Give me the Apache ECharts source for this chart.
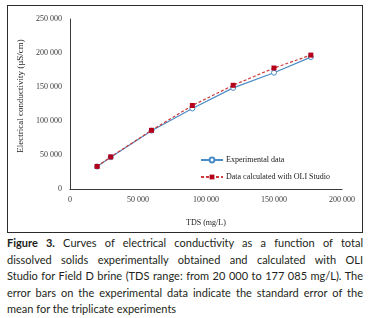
<!DOCTYPE html>
<html>
<head>
<meta charset="utf-8">
<script src="https://cdn.jsdelivr.net/npm/echarts@6/dist/echarts.min.js"></script>
<style>
  html, body { margin: 0; padding: 0; background: #fff; }
  body { width: 372px; height: 318px; position: relative; overflow: hidden; }
  #chart { position: absolute; left: 7px; top: 5px; width: 356px; height: 228px; border: 1px solid #2b2b2b; box-sizing: border-box; }
  #caption { position: absolute; left: 7px; top: 235px; width: 356px; font-family: Lato, 'Noto Sans', sans-serif; font-size: 11px; line-height: 16.5px; color: #231f20; }
  #caption div { text-align: justify; text-align-last: justify; white-space: nowrap; }
  #caption div.last { text-align-last: left; }
  #caption b { color: #1d1d1b; }
</style>
</head>
<body>
<div id="chart"></div>
<div id="caption">
  <div><b>Figure 3.</b> Curves of electrical conductivity as a function of total</div>
  <div>dissolved solids experimentally obtained and calculated with OLI</div>
  <div>Studio for Field D brine (TDS range: from 20 000 to 177 085 mg/L). The</div>
  <div>error bars on the experimental data indicate the standard error of the</div>
  <div class="last">mean for the triplicate experiments</div>
</div>
<script>
// TDS (mg/L) of each brine dilution
var tds = [20000, 30000, 60000, 90000, 120000, 150000, 177085]
// electrical conductivity (uS/cm)
var experimental = [33000, 46800, 85800, 118400, 148700, 171000, 194000]
var calculated = [33200, 47200, 86300, 122800, 152500, 177900, 196900]
var seriesNames = ['Experimental data', 'Data calculated with OLI Studio']
var xRange = [0, 200000, 50000]
var yRange = [0, 250000, 50000]

var serif = "'Liberation Serif', 'DejaVu Serif', serif"

function spaced (v) {
  return String(v).replace(/\B(?=(\d{3})+(?!\d))/g, ' ')
}

function pairs (ys) {
  var out = []
  for (var i = 0; i < tds.length; i++) out.push([tds[i], ys[i]])
  return out
}

var chart = echarts.init(document.getElementById('chart'), null, { renderer: 'canvas' })

var option = {
  animation: false,
  grid: { left: 60, right: 20, top: 13, bottom: 42 },
  legend: {
    orient: 'vertical',
    left: 192,
    top: 150,
    padding: 0,
    itemWidth: 22,
    itemHeight: 6,
    itemGap: 9,
    data: seriesNames,
    textStyle: { fontFamily: serif, fontSize: 8, color: '#1a1a1a', padding: [0, 0, 0, -2] }
  },
  xAxis: {
    type: 'value',
    min: xRange[0],
    max: xRange[1],
    interval: xRange[2],
    name: 'TDS (mg/L)',
    nameLocation: 'middle',
    nameGap: 30,
    nameTextStyle: { fontFamily: serif, fontSize: 8, color: '#1a1a1a' },
    axisLine: { show: true, lineStyle: { color: '#3a3a3a', width: 1 } },
    axisTick: { show: false },
    splitLine: { show: false },
    axisLabel: { margin: 7, fontFamily: serif, fontSize: 8, color: '#3a3a3a', formatter: spaced }
  },
  yAxis: {
    type: 'value',
    min: yRange[0],
    max: yRange[1],
    interval: yRange[2],
    name: 'Electrical conductivity (\u00b5S/cm)',
    nameLocation: 'middle',
    nameGap: 41,
    nameTextStyle: { fontFamily: serif, fontSize: 9, color: '#1a1a1a', padding: [0, 0, 0, 16] },
    axisLine: { show: true, lineStyle: { color: '#3a3a3a', width: 1 } },
    axisTick: { show: false },
    splitLine: { show: false },
    axisLabel: { margin: 8, fontFamily: serif, fontSize: 8, color: '#3a3a3a', formatter: spaced }
  },
  series: [{
    name: seriesNames[0],
    type: 'line',
    data: pairs(experimental),
    symbol: 'circle',
    symbolSize: 5,
    showAllSymbol: true,
    lineStyle: { color: '#4a8cc6', width: 1.2 },
    itemStyle: { color: '#ffffff', borderColor: '#4a8cc6', borderWidth: 1 }
  }, {
    name: seriesNames[1],
    type: 'line',
    data: pairs(calculated),
    symbol: 'rect',
    symbolSize: 5,
    showAllSymbol: true,
    lineStyle: { color: '#cc3a3a', width: 1.2, type: [3, 2] },
    itemStyle: { color: '#b5001a', borderColor: '#b5001a', borderWidth: 0 }
  }]
}

chart.setOption(option)
</script>
</body>
</html>
